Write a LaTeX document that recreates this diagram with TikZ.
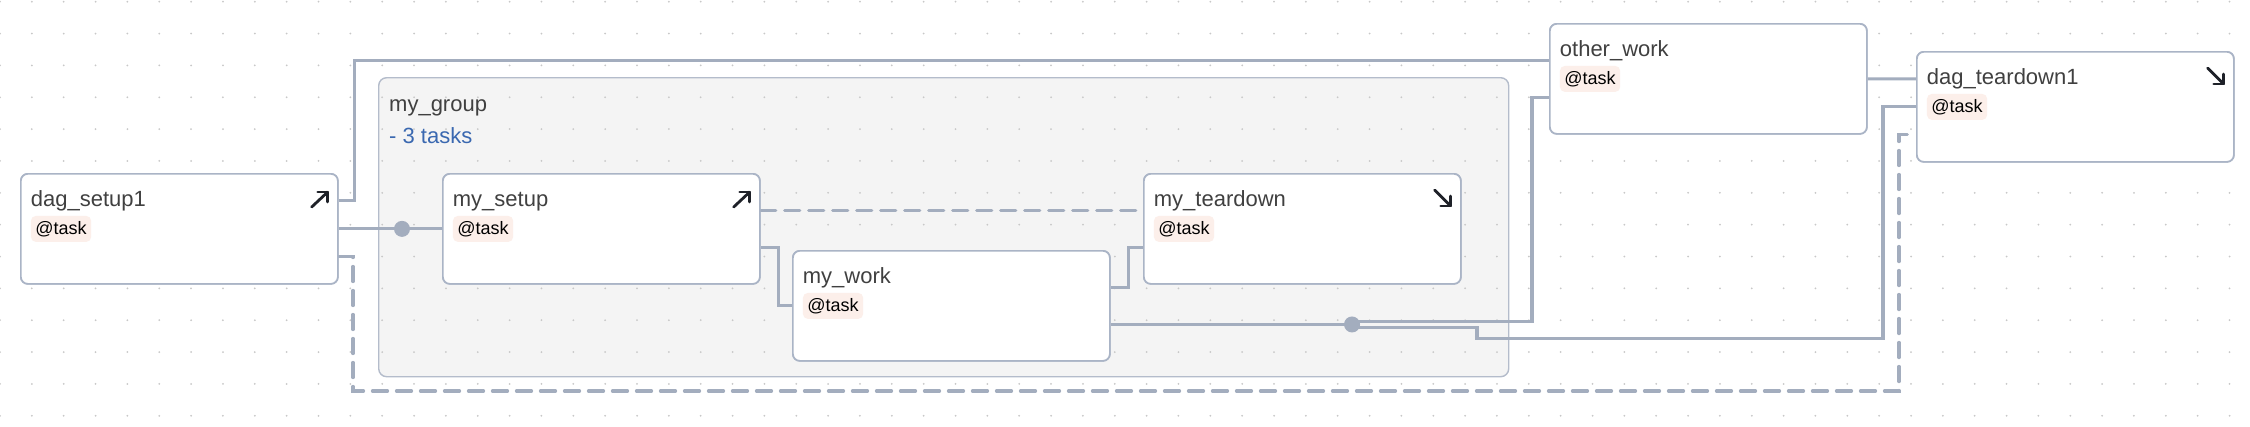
\documentclass[tikz,border=0pt]{standalone}
\usepackage{fontspec}
\setmainfont{Liberation Sans}
\usetikzlibrary{calc}
\definecolor{edgec}{HTML}{A3ADBE}
\definecolor{borderc}{HTML}{AAB4C6}
\definecolor{groupfill}{HTML}{F4F4F4}
\definecolor{groupborder}{HTML}{B4BCCB}
\definecolor{dotc}{HTML}{C8C8C8}
\definecolor{titlec}{HTML}{404040}
\definecolor{badgefill}{HTML}{FCEFEA}
\definecolor{bluec}{HTML}{3A68B0}
\definecolor{iconc}{HTML}{1E2128}
\newcommand\upicon[1]{%
  \draw[icon] ($(#1.north east)+(-27,34)$) -- ($(#1.north east)+(-11,19)$);
  \draw[icon] ($(#1.north east)+(-21,19)$) -- ($(#1.north east)+(-11,19)$) -- ($(#1.north east)+(-11,29)$);}
\newcommand\downicon[1]{%
  \draw[icon] ($(#1.north east)+(-27,17)$) -- ($(#1.north east)+(-11,33)$);
  \draw[icon] ($(#1.north east)+(-21,33)$) -- ($(#1.north east)+(-11,33)$) -- ($(#1.north east)+(-11,23)$);}
\newcommand\taskcard[3]{%
  \node[taskbox] (#1) at (#2) {};
  \node[title] (#1t) at ($(#1.north west)+(10.7,33.7)$) {#3};
  \node[badge] (#1b) at ($(#1.north west)+(10.7,42.7)$) {@task};}
\begin{document}
\begin{tikzpicture}[x=1pt,y=-1pt,
  taskbox/.style={draw=borderc, line width=1.7pt, fill=white, rounded corners=7pt,
    minimum width=317pt, minimum height=110pt, inner sep=0pt, anchor=north west},
  groupbox/.style={draw=groupborder, fill=groupfill, line width=1.4pt, rounded corners=8pt,
    minimum width=1130pt, minimum height=299pt, inner sep=0pt, anchor=north west},
  title/.style={anchor=base west, text=titlec, font=\fontsize{22}{26}\selectfont, inner sep=0pt},
  badge/.style={anchor=north west, fill=badgefill, rounded corners=5pt, inner xsep=4.5pt,
    inner ysep=0pt, minimum height=26pt, text=black, font=\fontsize{18}{21}\selectfont},
  edge/.style={draw=edgec, line width=3.1pt},
  dashedge/.style={edge, line width=3.3pt, dash pattern=on 15pt off 9pt, line cap=round},
  junction/.style={circle, fill=edgec, minimum size=16pt, inner sep=0pt},
  icon/.style={draw=iconc, line width=2.8pt, line cap=round, line join=round}
]
\useasboundingbox[fill=white] (0,0) rectangle (2250,426);

% group
\node[groupbox] (grp) at (378,77) {};
% dot grid
\foreach \i in {0,...,70}{\foreach \j in {0,...,13}{\fill[dotc] (31.85*\i,1.7+31.85*\j) circle (1pt);}}
\node[title] (grpt) at ($(grp.north west)+(11,34.7)$) {my\_group};
\node[title, text=bluec] (grpn) at ($(grp.north west)+(11,66)$) {- 3 tasks};

% task boxes (first pass: define anchors)
\taskcard{ds}{20,173}{dag\_setup1}
\taskcard{ms}{442,173}{my\_setup}
\taskcard{mw}{792,250}{my\_work}
\taskcard{mt}{1143,173}{my\_teardown}
\taskcard{ow}{1549,23}{other\_work}
\taskcard{td}{1916,51}{dag\_teardown1}

% ports
\coordinate (ds1) at ($(ds.north east)!0.25!(ds.south east)$);
\coordinate (ds2) at ($(ds.north east)!0.5!(ds.south east)$);
\coordinate (ds3) at ($(ds.north east)!0.75!(ds.south east)$);
\coordinate (msW) at ($(ms.north west)!0.5!(ms.south west)$);
\coordinate (msE1) at ($(ms.north east)!1/3!(ms.south east)$);
\coordinate (msE2) at ($(ms.north east)!2/3!(ms.south east)$);
\coordinate (mwW) at ($(mw.north west)!0.5!(mw.south west)$);
\coordinate (mwE1) at ($(mw.north east)!1/3!(mw.south east)$);
\coordinate (mwE2) at ($(mw.north east)!2/3!(mw.south east)$);
\coordinate (mtW1) at ($(mt.north west)!1/3!(mt.south west)$);
\coordinate (mtW2) at ($(mt.north west)!2/3!(mt.south west)$);
\coordinate (owW1) at ($(ow.north west)!1/3!(ow.south west)$);
\coordinate (owW2) at ($(ow.north west)!2/3!(ow.south west)$);
\coordinate (owE) at ($(ow.north east)!0.5!(ow.south east)$);
\coordinate (td1) at ($(td.north west)!0.25!(td.south west)$);
\coordinate (td2) at ($(td.north west)!0.5!(td.south west)$);
\coordinate (td3) at ($(td.north west)!0.75!(td.south west)$);
\coordinate (dl) at (353,391);
\coordinate (dr) at (1899,391);
\coordinate (tdb) at (1883,338.3);
\coordinate (j1x) at (402,0);
\coordinate (j2x) at (1352,0);
\coordinate (j1c) at (ds2 -| j1x);
\coordinate (j2c) at (mwE2 -| j2x);

% edges
\draw[edge] (ds1) -- ++(16,0) |- (owW1);
\draw[edge] (ds2) -- (msW);
\draw[dashedge] (ds3) -| (dl) -- (dr) |- (td3);
\draw[dashedge] (msE1) -- (mtW1);
\draw[edge] (msE2) -- ++(17.7,0) |- (mwW);
\draw[edge] (mwE1) -- ++(17.5,0) |- (mtW2);
\draw[edge] (mwE2) -- (j2c) -- ++(0,-2.6) -- ++(180,0) |- (owW2);
\draw[edge] (mwE2) -- (j2c) -- ++(0,2.7) -- ++(125,0) |- (tdb) |- (td2);
\draw[edge] (owE) -- (td1);
\node[junction] (j1) at (j1c) {};
\node[junction] (j2) at (j2c) {};

% task cards on top of edges
\taskcard{ds}{20,173}{dag\_setup1}
\taskcard{ms}{442,173}{my\_setup}
\taskcard{mw}{792,250}{my\_work}
\taskcard{mt}{1143,173}{my\_teardown}
\taskcard{ow}{1549,23}{other\_work}
\taskcard{td}{1916,51}{dag\_teardown1}

\upicon{ds}
\upicon{ms}
\downicon{mt}
\downicon{td}
\end{tikzpicture}
\end{document}
